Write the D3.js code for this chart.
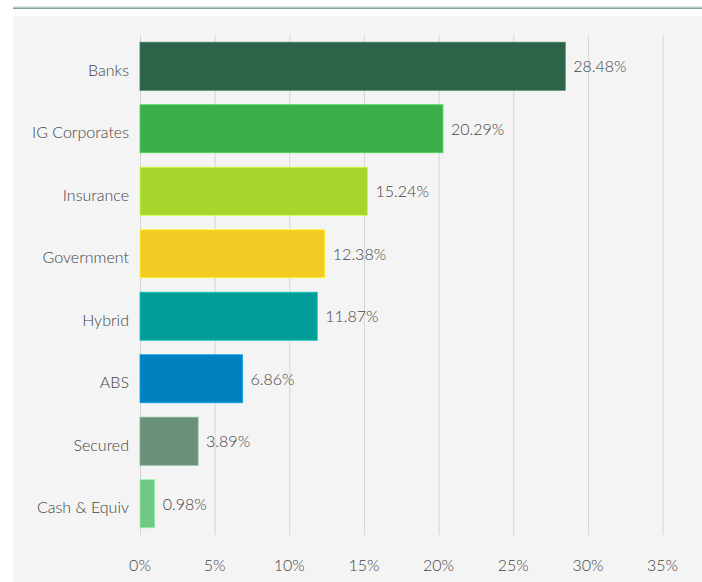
<!DOCTYPE html>
<html lang="en">
<head>
	<meta charset="utf-8">
	<title>Sector allocation</title>
	<script src="https://d3js.org/d3.v7.min.js"></script>
	<style>
		body { margin: 0; background: #fff; }
		svg { display: block; }
	</style>
</head>
<body>
	<div id="my_dataviz"></div>
	<script>
		const categories = ["Banks", "IG Corporates", "Insurance", "Government", "Hybrid", "ABS", "Secured", "Cash & Equiv"];
		const weights = [28.48, 20.29, 15.24, 12.38, 11.87, 6.86, 3.89, 0.98];
		const barColors = ["#2d6349", "#3cae4c", "#a6d52c", "#f3cb22", "#009e96", "#0080be", "#6a907a", "#74c683"];
		const tickValues = [0, 5, 10, 15, 20, 25, 30, 35];

		const width = 702, height = 582;
		const margin = { top: 35, right: 40, bottom: 47, left: 140 };

		const svg = d3.select("#my_dataviz")
			.append("svg")
			.attr("width", width)
			.attr("height", height);

		// header rule and panel
		svg.append("rect")
			.attr("x", 13).attr("y", 16)
			.attr("width", width - 13).attr("height", height - 16)
			.attr("fill", "#f4f4f4");
		svg.append("rect")
			.attr("x", 13).attr("y", 6.5)
			.attr("width", width - 13).attr("height", 1.2)
			.attr("fill", "#b9cfc2");
		svg.append("rect")
			.attr("x", 13).attr("y", 7.7)
			.attr("width", width - 13).attr("height", 1.3)
			.attr("fill", "#7fa492");

		const x = d3.scaleLinear()
			.domain([0, 35])
			.range([margin.left, 140 + 35 * 14.93]);

		const y = d3.scaleBand()
			.domain(categories)
			.range([margin.top, height - margin.bottom])
			.paddingInner(0.232)
			.paddingOuter(0.116);

		const font = "Lato, sans-serif";
		const textColor = "#444";

		// gridlines
		svg.append("g")
			.selectAll("line")
			.data(tickValues)
			.join("line")
			.attr("x1", d => x(d) + 0.5).attr("x2", d => x(d) + 0.5)
			.attr("y1", margin.top).attr("y2", height - margin.bottom)
			.attr("stroke", "#d4d4d4")
			.attr("stroke-width", 1);

		// x axis labels
		svg.append("g")
			.attr("font-family", font)
			.attr("font-weight", 300)
			.attr("font-size", 16)
			.attr("fill", textColor)
			.attr("text-anchor", "middle")
			.selectAll("text")
			.data(tickValues)
			.join("text")
			.attr("x", d => x(d))
			.attr("y", 571)
			.text(d => d + "%");

		const data = categories.map((c, i) => ({ name: c, value: weights[i], color: barColors[i] }));

		// bars
		svg.append("g")
			.selectAll("rect")
			.data(data)
			.join("rect")
			.attr("x", x(0))
			.attr("y", d => y(d.name))
			.attr("width", d => x(d.value) - x(0))
			.attr("height", y.bandwidth())
			.attr("fill", d => d.color)
			.attr("stroke", d => d3.color(d.color).brighter(0.6))
			.attr("stroke-width", 0.8);

		// category labels
		svg.append("g")
			.attr("font-family", font)
			.attr("font-weight", 300)
			.attr("font-size", 16)
			.attr("fill", textColor)
			.attr("text-anchor", "end")
			.selectAll("text")
			.data(data)
			.join("text")
			.attr("x", 129)
			.attr("y", d => y(d.name) + y.bandwidth() / 2 + 9.5)
			.text(d => d.name);

		// value labels
		svg.append("g")
			.attr("font-family", font)
			.attr("font-weight", 300)
			.attr("font-size", 16)
			.attr("fill", textColor)
			.selectAll("text")
			.data(data)
			.join("text")
			.attr("x", d => x(d.value) + 8)
			.attr("y", d => y(d.name) + y.bandwidth() / 2 + 6)
			.text(d => d.value.toFixed(2) + "%");
	</script>
</body>
</html>
